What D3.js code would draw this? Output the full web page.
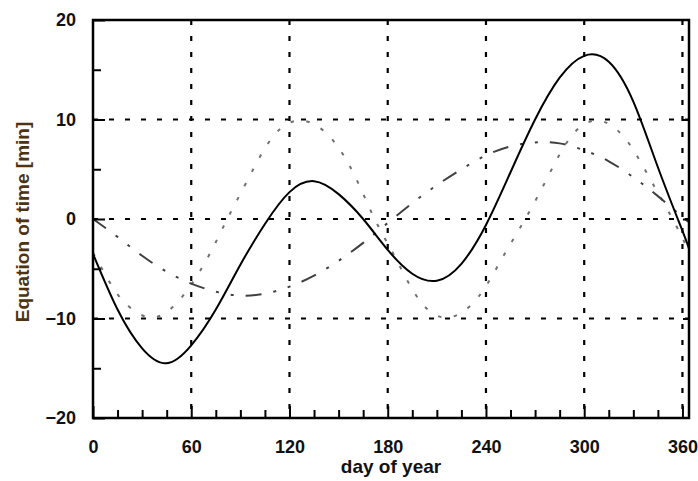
<!DOCTYPE html>
<html>
<head>
<meta charset="utf-8">
<script src="https://cdn.jsdelivr.net/npm/d3@7"></script>
<style>
  body { margin: 0; background: #fff; }
  text { font-family: "Liberation Sans", Arial, sans-serif; font-weight: bold; }
</style>
</head>
<body>
<script>
// values, minutes
const days = [0, 15, 30, 45, 60, 75, 90, 105, 120, 135, 150, 165, 180,
              195, 210, 225, 240, 255, 270, 285, 300, 315, 330, 345, 360, 364]
const totalMin = [-3.5, -9.1, -13.0, -14.5, -12.7, -9.1, -4.6, -0.5, 2.7, 3.8, 2.5, 0.0, -3.1,
                  -5.5, -6.2, -4.5, -0.6, 4.7, 10.0, 14.2, 16.4, 15.8, 11.8, 5.2, -1.2, -3.0]
const eccentricityMin = [0, -1.8, -3.7, -5.3, -6.5, -7.3, -7.7, -7.5, -6.8, -5.7, -4.2, -2.4, -0.4,
                         1.6, 3.4, 5.0, 6.4, 7.3, 7.7, 7.6, 6.9, 5.8, 4.2, 2.3, 0.2, -0.3]
const obliquityDays = [0, 10, 20, 37, 55, 70, 82, 95, 110, 127, 145, 160, 172,
                       185, 200, 217, 235, 250, 264, 278, 292, 308, 325, 340, 354, 364]
const obliquityMin = [-3.4, -6.3, -8.5, -9.9, -7.7, -3.9, 0, 4.1, 8.3, 9.9, 8.2, 4.3, 0,
                      -4.0, -8.3, -9.9, -7.9, -3.9, 0, 4.3, 8.3, 9.9, 8.1, 4.1, 0, -3.3]

const xTicks = [0, 60, 120, 180, 240, 300, 360]
const xMinor = [15, 30, 45, 75, 90, 105, 135, 150, 165, 195, 210, 225, 255, 270, 285, 315, 330, 345]
const yTicks = [-20, -10, 0, 10, 20]
const yMinor = [-15, -5, 5, 15]
const xGrid = [60, 120, 180, 240, 300, 360]
const yGrid = [-10, 0, 10]

const width = 698, height = 481
const mLeft = 93, mRight = 689, mTop = 20, mBottom = 418

const x = d3.scaleLinear().domain([0, 364]).range([mLeft, mRight])
const y = d3.scaleLinear().domain([-20, 20]).range([mBottom, mTop])

const canvas = d3.select("body")
                .append("svg")
                .attr("width", width)
                .attr("height", height)

canvas.append("rect")
      .attr("width", width)
      .attr("height", height)
      .attr("fill", "#fff")

// grid
const gGrid = canvas.append("g")
               .attr("stroke", "#000")
               .attr("stroke-width", 2.2)
               .attr("stroke-dasharray", "5,11")

gGrid.selectAll(".vgrid")
     .data(xGrid)
     .join("line")
        .attr("class", "vgrid")
        .attr("x1", d => x(d)).attr("x2", d => x(d))
        .attr("y1", mTop).attr("y2", mBottom)

gGrid.selectAll(".hgrid")
     .data(yGrid)
     .join("line")
        .attr("class", "hgrid")
        .attr("x1", mLeft).attr("x2", mRight)
        .attr("y1", d => y(d)).attr("y2", d => y(d))

// curves
const gCurves = canvas.append("g")
               .attr("fill", "none")

const line = d3.line()
               .x(d => x(d[0]))
               .y(d => y(d[1]))
               .curve(d3.curveNatural)

gCurves.append("path")
       .datum(d3.zip(obliquityDays, obliquityMin))
       .attr("d", line)
       .attr("stroke", "#707070")
       .attr("stroke-width", 2)
       .attr("stroke-dasharray", "3.5,12.5")

gCurves.append("path")
       .datum(d3.zip(days, eccentricityMin))
       .attr("d", line)
       .attr("stroke", "#404040")
       .attr("stroke-width", 2)
       .attr("stroke-dasharray", "16,12,3,12,3,12")

gCurves.append("path")
       .datum(d3.zip(days, totalMin))
       .attr("d", line)
       .attr("stroke", "#000")
       .attr("stroke-width", 2)

// axes
const xAxis = canvas.append("g")
               .attr("transform", `translate(0,${mBottom})`)
               .call(d3.axisBottom(x).tickValues(xTicks).tickSize(-12).tickPadding(22).tickSizeOuter(0))
const xAxisMinor = canvas.append("g")
               .attr("transform", `translate(0,${mBottom})`)
               .call(d3.axisBottom(x).tickValues(xMinor).tickSize(-8).tickFormat("").tickSizeOuter(0))

const yAxis = canvas.append("g")
               .attr("transform", `translate(${mLeft},0)`)
               .call(d3.axisLeft(y).tickValues(yTicks).tickSize(-12).tickPadding(17).tickSizeOuter(0))
const yAxisMinor = canvas.append("g")
               .attr("transform", `translate(${mLeft},0)`)
               .call(d3.axisLeft(y).tickValues(yMinor).tickSize(-8).tickFormat("").tickSizeOuter(0))
const yAxisRight = canvas.append("g")
               .attr("transform", `translate(${mRight},0)`)
               .call(d3.axisRight(y).tickValues(yGrid).tickSize(-6).tickFormat("").tickSizeOuter(0))

canvas.selectAll(".domain").remove()
canvas.selectAll(".tick line")
      .attr("stroke", "#000")
      .attr("stroke-width", 2)
canvas.selectAll(".tick text")
      .attr("fill", "#111")
      .style("font-size", "18px")

canvas.append("rect")
      .attr("x", mLeft).attr("y", mTop)
      .attr("width", mRight - mLeft).attr("height", mBottom - mTop)
      .attr("fill", "none")
      .attr("stroke", "#000")
      .attr("stroke-width", 2.5)

canvas.append("text")
      .attr("x", (mLeft + mRight) / 2)
      .attr("y", 473)
      .attr("text-anchor", "middle")
      .attr("fill", "#111")
      .style("font-size", "19px")
      .text("day of year")

canvas.append("text")
      .attr("transform", "translate(29,222) rotate(-90)")
      .attr("text-anchor", "middle")
      .attr("fill", "#4d3312")
      .style("font-size", "19px")
      .text("Equation of time [min]")
</script>
</body>
</html>
